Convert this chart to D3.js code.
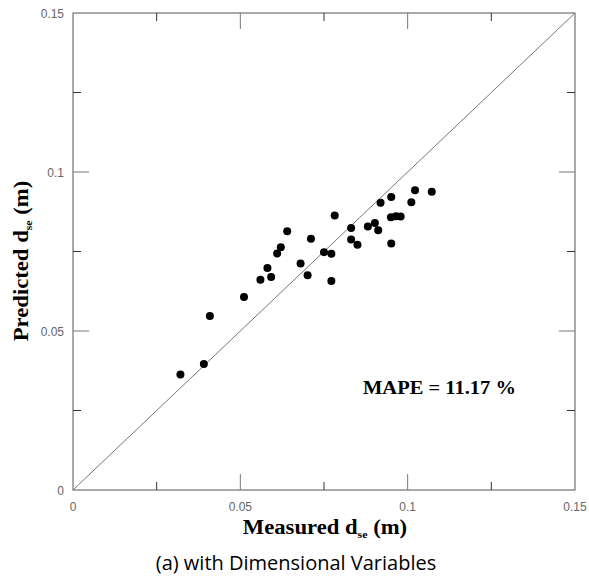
<!DOCTYPE html>
<html>
<head>
<meta charset="utf-8">
<script src="https://cdn.jsdelivr.net/npm/d3@7"></script>
<style>
  body { margin: 0; background: #fff; }
  .tick-label { font-family: "Liberation Sans", Arial, sans-serif; font-size: 12px; fill: #666; }
  .axis-title { font-family: "Liberation Serif", "Times New Roman", serif; font-weight: bold; font-size: 21px; fill: #000; }
  .caption { font-family: "Open Sans", sans-serif; font-size: 20px; fill: #000; }
</style>
</head>
<body>
<div class="canvas"></div>
<script>
// measured vs predicted d_se (m)
var measured = [0.0321, 0.0391, 0.0409, 0.0511, 0.0560, 0.0581, 0.0592, 0.0610, 0.0621, 0.0640,
                0.0680, 0.0701, 0.0711, 0.0750, 0.0772, 0.0772, 0.0782, 0.0831, 0.0831, 0.0850,
                0.0881, 0.0902, 0.0912, 0.0919, 0.0951, 0.0950, 0.0965, 0.0979, 0.0951, 0.1011,
                0.1022, 0.1072];
var predicted = [0.0363, 0.0396, 0.0547, 0.0607, 0.0661, 0.0698, 0.0670, 0.0744, 0.0763, 0.0814,
                 0.0712, 0.0675, 0.0790, 0.0748, 0.0743, 0.0657, 0.0863, 0.0824, 0.0788, 0.0771,
                 0.0829, 0.0840, 0.0817, 0.0903, 0.0921, 0.0858, 0.0861, 0.0860, 0.0775, 0.0905,
                 0.0943, 0.0938];
var majorTicks = [0, 0.05, 0.1, 0.15];
var majorLabels = ['0', '0.05', '0.1', '0.15'];
var minorTicks = [0.025, 0.075, 0.125];

var width = 589, height = 579;
var margin = { left: 73, top: 13, right: 14, bottom: 89 };

var svg = d3.select('.canvas').append('svg')
	.attr('width', width).attr('height', height);

var x = d3.scaleLinear().domain([0, 0.15]).range([margin.left, width - margin.right]);
var y = d3.scaleLinear().domain([0, 0.15]).range([height - margin.bottom, margin.top]);

var grp = svg.append('g');

// frame
grp.append('rect')
	.attr('x', x(0)).attr('y', y(0.15))
	.attr('width', x(0.15) - x(0)).attr('height', y(0) - y(0.15))
	.attr('fill', 'none').attr('stroke', '#555').attr('stroke-width', 1);

// inward ticks on all four sides
function ticks(vals, len, color) {
	vals.forEach(function(v) {
		grp.append('line').attr('x1', x(v)).attr('x2', x(v)).attr('y1', y(0)).attr('y2', y(0) - len).attr('stroke', color);
		grp.append('line').attr('x1', x(v)).attr('x2', x(v)).attr('y1', y(0.15)).attr('y2', y(0.15) + len).attr('stroke', color);
		grp.append('line').attr('y1', y(v)).attr('y2', y(v)).attr('x1', x(0)).attr('x2', x(0) + len).attr('stroke', color);
		grp.append('line').attr('y1', y(v)).attr('y2', y(v)).attr('x1', x(0.15)).attr('x2', x(0.15) - len).attr('stroke', color);
	});
}
ticks(majorTicks.slice(1, 3), 16, '#777');
ticks(minorTicks, 8, '#333');

// tick labels
grp.selectAll('text.xl').data(majorTicks).enter().append('text')
	.attr('class', 'tick-label').attr('text-anchor', 'middle')
	.attr('x', function(d) { return x(d); }).attr('y', y(0) + 21)
	.text(function(d, i) { return majorLabels[i]; });
grp.selectAll('text.yl').data(majorTicks).enter().append('text')
	.attr('class', 'tick-label').attr('text-anchor', 'end')
	.attr('x', x(0) - 9).attr('y', function(d) { return y(d) + 5; })
	.text(function(d, i) { return majorLabels[i]; });

// 1:1 line
grp.append('line')
	.attr('x1', x(0)).attr('y1', y(0)).attr('x2', x(0.15)).attr('y2', y(0.15))
	.attr('stroke', '#777').attr('stroke-width', 1);

// points
grp.selectAll('circle.pt').data(measured).enter().append('circle')
	.attr('class', 'pt')
	.attr('cx', function(d) { return x(d); })
	.attr('cy', function(d, i) { return y(predicted[i]); })
	.attr('r', 4).attr('fill', '#000');

// axis titles (glyphs in the original are a bit wider than Times)
var xt = svg.append('text').attr('class', 'axis-title').attr('text-anchor', 'middle')
	.attr('transform', 'translate(325,534) scale(1.08,1)');
xt.append('tspan').text('Measured d');
xt.append('tspan').attr('font-size', '11px').attr('dy', 4).text('se');
xt.append('tspan').attr('dy', -4).text(' (m)');

var yt = svg.append('text').attr('class', 'axis-title').attr('text-anchor', 'middle')
	.attr('transform', 'translate(28,261) rotate(-90) scale(1.08,1)');
yt.append('tspan').text('Predicted d');
yt.append('tspan').attr('font-size', '11px').attr('dy', 4).text('se');
yt.append('tspan').attr('dy', -4).text(' (m)');

// MAPE annotation
svg.append('text').attr('class', 'axis-title').style('font-size', '18px')
	.attr('transform', 'translate(363,394) scale(1.14,1)').text('MAPE = 11.17 %');

// caption
svg.append('text').attr('class', 'caption').attr('text-anchor', 'middle')
	.attr('x', 296).attr('y', 570).text('(a) with Dimensional Variables');
</script>
</body>
</html>
